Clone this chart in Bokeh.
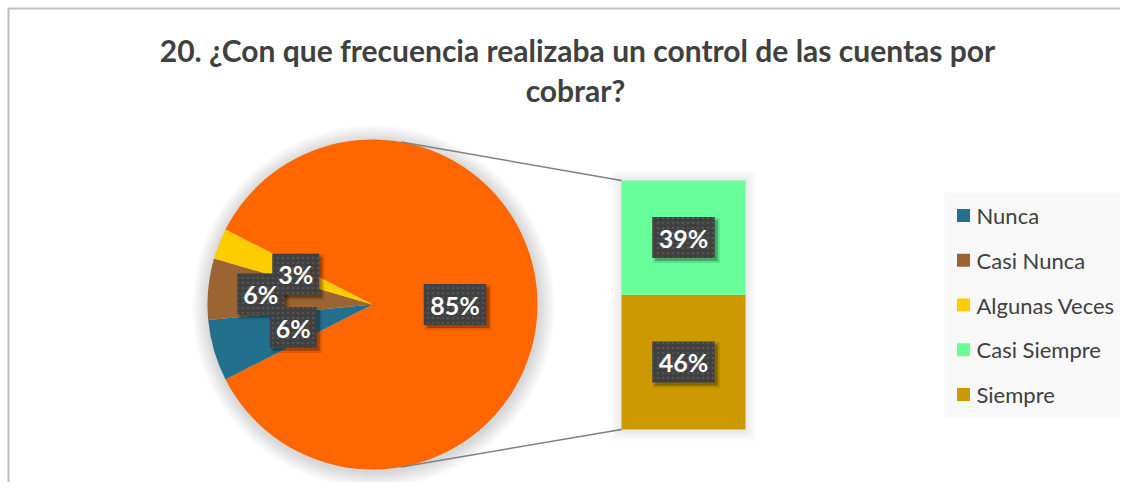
import math
from bokeh.plotting import figure
from bokeh.models import Range1d, ColumnDataSource
from bokeh.core.properties import value
from bokeh.embed import file_html
from bokeh.resources import INLINE

# ---------------- data ----------------
title_lines = ["20. ¿Con que frecuencia realizaba un control de las cuentas por", "cobrar?"]
categories = ["Nunca", "Casi Nunca", "Algunas Veces", "Casi Siempre", "Siempre"]
percent = [6, 6, 3, 39, 46]
colors = ["#23708E", "#9C6333", "#FFCC00", "#66FF99", "#CC9900"]
other_color = "#FF6600"
pie_idx = [0, 1, 2]      # slices in the main pie
bar_idx = [4, 3]         # stacked bar, bottom to top

# ---------------- layout (pixel-like data space, y up) ----------------
W, H = 1120, 482
FONT = "Lato"
cx, cy, R = 372, 178, 165
bar_x0, bar_x1 = 621, 745
bar_y0, bar_y1 = 53, 302

p = figure(width=W, height=H, output_backend="svg", toolbar_location=None,
           x_range=Range1d(0, W), y_range=Range1d(0, H), min_border=0)
p.axis.visible = False
p.grid.visible = False
p.outline_line_color = None
p.background_fill_color = "white"
p.border_fill_color = "white"

# chart border (left and top visible)
p.line([8, 8, W], [0, 474, 474], line_color="#c0c0c0", line_width=2)

# ---------------- pie ----------------
other_val = sum(percent[i] for i in bar_idx)
total = sum(percent)
other_span = 2 * math.pi * other_val / total
# soft shadow
for k in range(1, 9):
    p.circle(x=cx + 1, y=cy - 2, radius=R + 2 * k, fill_color="black", fill_alpha=0.018, line_color=None)
p.wedge(x=cx, y=cy, radius=R, start_angle=-other_span / 2, end_angle=other_span / 2,
        fill_color=other_color, line_color=None)
sa, ea, cols, mids = [], [], [], []
a = 2 * math.pi - other_span / 2   # go clockwise from the bottom edge of the "other" slice
for i in pie_idx:
    span = 2 * math.pi * percent[i] / total
    sa.append(a - span); ea.append(a); cols.append(colors[i]); mids.append(a - span / 2)
    a -= span
p.wedge(x=cx, y=cy, radius=R, start_angle=sa, end_angle=ea, fill_color=cols, line_color=None)

# connector lines
conn_ang = math.radians(80)
p.line([cx + R * math.cos(conn_ang), bar_x0], [cy + R * math.sin(conn_ang), bar_y1],
       line_color="#808080", line_width=1.5)
p.line([cx + R * math.cos(conn_ang), bar_x0], [cy - R * math.sin(conn_ang), bar_y0],
       line_color="#808080", line_width=1.5)

# ---------------- bar of pie ----------------
scale = (bar_y1 - bar_y0) / other_val
p.extra_y_ranges = {"bar": Range1d(-bar_y0 / scale, (H - bar_y0) / scale)}
for k in range(1, 8):
    p.quad(left=bar_x0 - 1.5 * k, right=bar_x1 + 1.5 * k, bottom=bar_y0 - 1.5 * k - 1,
           top=bar_y1 + 1.5 * k - 1, fill_color="black", fill_alpha=0.012, line_color=None)
bottoms, tops, bcols = [], [], []
acc = 0
for i in bar_idx:
    bottoms.append(acc); tops.append(acc + percent[i]); bcols.append(colors[i])
    acc += percent[i]
p.vbar(x=(bar_x0 + bar_x1) / 2, width=bar_x1 - bar_x0, bottom=bottoms, top=tops,
       fill_color=bcols, line_color=None, y_range_name="bar")

# ---------------- data labels ----------------
lab_x, lab_y, lab_t = [], [], []
lab_x.append(cx + 0.5 * R); lab_y.append(cy); lab_t.append(f"{other_val}%")
lab_r = [0.5, 0.68, 0.5]
for j, i in enumerate(pie_idx):
    lab_x.append(cx + lab_r[j] * R * math.cos(mids[j]))
    lab_y.append(cy + lab_r[j] * R * math.sin(mids[j]))
    lab_t.append(f"{percent[i]}%")
for b, t, i in zip(bottoms, tops, bar_idx):
    lab_x.append((bar_x0 + bar_x1) / 2)
    lab_y.append(bar_y0 + (b + t) / 2 * scale)
    lab_t.append(f"{percent[i]}%")
lab_w = [16 + 15.5 * len(t) for t in lab_t]
src = ColumnDataSource(dict(x=lab_x, y=lab_y, t=lab_t, w=lab_w,
                            sx=[v + 3 for v in lab_x], sy=[v - 3 for v in lab_y],
                            w2=[w + 4 for w in lab_w]))
p.rect(x="sx", y="sy", width="w2", height=45, source=src,
       fill_color="black", fill_alpha=0.12, line_color=None)
p.rect(x="sx", y="sy", width="w", height=41, source=src,
       fill_color="black", fill_alpha=0.25, line_color=None)
p.rect(x="x", y="y", width="w", height=41, source=src, fill_color="#404040", line_color=None,
       hatch_pattern="dot", hatch_color="#545454", hatch_scale=5, hatch_weight=1)
p.text(x="x", y="y", text="t", source=src, text_align="center", text_baseline="middle",
       text_color="white", text_font=value(FONT), text_font_style="bold", text_font_size="25px")

# ---------------- title ----------------
p.text(x=[577, 575], y=[433, 393], text=title_lines, text_align="center",
       text_baseline="middle", text_color="#404040", text_font=value(FONT),
       text_font_style="bold", text_font_size="30px")

# ---------------- legend ----------------
p.quad(left=944, right=W, bottom=65, top=290, fill_color="#f8f8f8", line_color=None)
leg_y = [267 - 44.75 * k for k in range(len(categories))]
p.scatter(x=[963] * len(categories), y=leg_y, marker="square", size=13,
          fill_color=colors, line_color=None)
p.text(x=[976] * len(categories), y=leg_y, text=categories, text_align="left",
       text_baseline="middle", text_color="#404040", text_font=value(FONT),
       text_font_size="22px")

open("out.html", "w").write(file_html(p, INLINE))
